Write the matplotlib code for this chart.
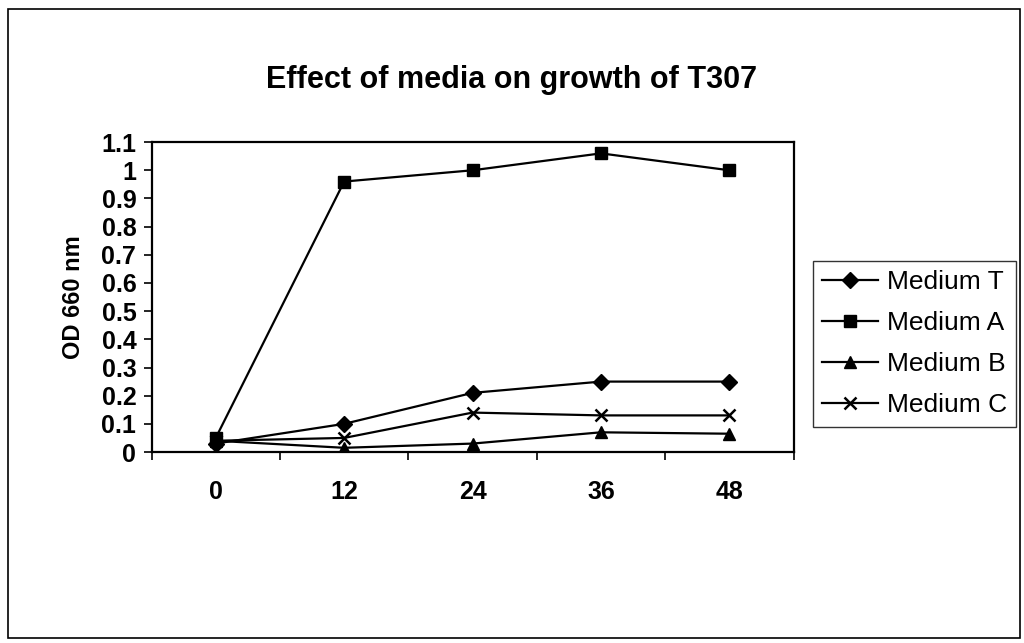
import matplotlib
matplotlib.use('Agg')
import matplotlib.pyplot as plt
from matplotlib.patches import Rectangle

# ── DATA ──────────────────────────────────────────────────
hours = ['0', '12', '24', '36', '48']
medium_t = [0.03, 0.10, 0.21, 0.25, 0.25]
medium_a = [0.05, 0.96, 1.00, 1.06, 1.00]
medium_b = [0.04, 0.015, 0.03, 0.07, 0.065]
medium_c = [0.04, 0.05, 0.14, 0.13, 0.13]

series = [
    ('Medium T', medium_t, 'D', 8),
    ('Medium A', medium_a, 's', 8),
    ('Medium B', medium_b, '^', 8),
    ('Medium C', medium_c, 'x', 9),
]

# ── STYLE ─────────────────────────────────────────────────
plt.rcParams['font.family'] = ['Liberation Sans', 'DejaVu Sans']
plt.rcParams['font.weight'] = 'bold'

fig = plt.figure(figsize=(10.24, 6.43), dpi=100, facecolor='white')
ax = fig.add_axes([0.148, 0.297, 0.627, 0.482])

x = list(range(len(hours)))
for name, vals, mk, ms in series:
    ax.plot(x, vals, color='black', linewidth=1.6, marker=mk, markersize=ms,
            markeredgewidth=1.8 if mk == 'x' else 1.0, label=name)

ax.set_xlim(-0.5, len(hours) - 0.5)
ax.set_ylim(0, 1.1)
ax.set_yticks([i / 10 for i in range(12)])
ax.set_yticklabels(['0'] + [f'{i / 10:g}' for i in range(1, 12)], fontsize=18, fontweight='bold')

# category labels centred, ticks between categories
ax.set_xticks(x)
ax.set_xticklabels(hours, fontsize=18, fontweight='bold')
ax.set_xticks([i - 0.5 for i in range(len(hours) + 1)], minor=True)
ax.tick_params(axis='x', which='major', length=0, pad=20)
ax.tick_params(axis='x', which='minor', direction='out', length=6, width=1.2)
ax.tick_params(axis='y', direction='out', length=6, width=1.2, pad=5)

for spine in ax.spines.values():
    spine.set_linewidth(1.6)
    spine.set_color('black')

ax.set_ylabel('OD 660 nm', fontsize=17, fontweight='bold', labelpad=12)
fig.suptitle('Effect of media on growth of T307', fontsize=22, fontweight='bold',
             x=0.5, y=0.876, va='center')

leg = ax.legend(loc='center left', bbox_to_anchor=(1.03, 0.35), fontsize=19,
                frameon=True, fancybox=False, edgecolor='black', handlelength=2.1,
                handletextpad=0.35, labelspacing=0.65, borderpad=0.35, borderaxespad=0)
leg.get_frame().set_linewidth(1.0)
for t in leg.get_texts():
    t.set_fontweight('normal')

# outer chart border
fig.patches.append(Rectangle((0.008, 0.008), 0.988, 0.978, transform=fig.transFigure,
                             fill=False, edgecolor='black', linewidth=1.2))

plt.savefig('out.png', dpi=100, facecolor='white')
